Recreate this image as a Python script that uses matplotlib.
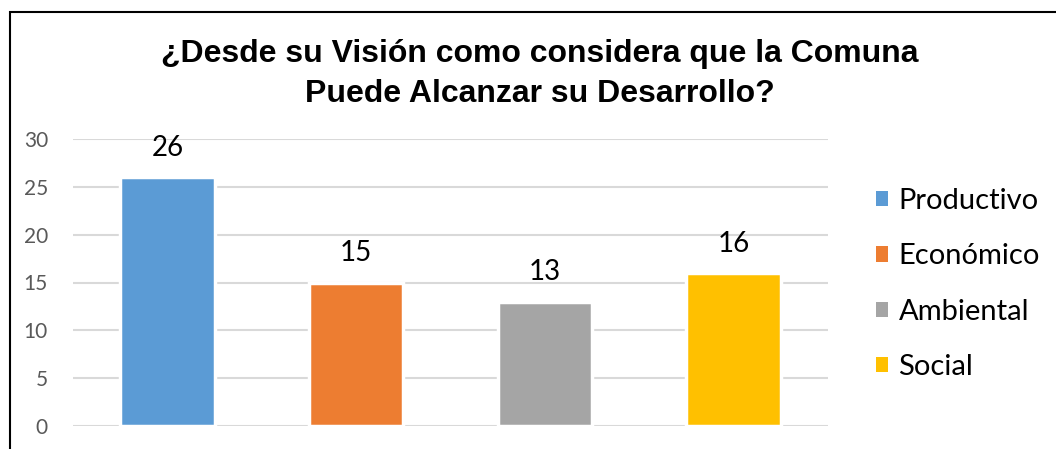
import matplotlib.pyplot as plt
from matplotlib.patches import Rectangle

categories = ['Productivo', 'Económico', 'Ambiental', 'Social']
values = [26, 15, 13, 16]
colors = ['#5B9BD5', '#ED7D31', '#A5A5A5', '#FFC000']
yticks = [0, 5, 10, 15, 20, 25, 30]
title = '¿Desde su Visión como considera que la Comuna\nPuede Alcanzar su Desarrollo?'

W, H = 1056, 449
fig = plt.figure(figsize=(W / 100, H / 100), dpi=100)
ax = fig.add_axes([73 / W, 1 - 426 / H, (828 - 73) / W, (426 - 139) / H])

for i, (cat, val, col) in enumerate(zip(categories, values, colors)):
    ax.bar(i, val, width=0.5, color=col, edgecolor='white', linewidth=2.5,
           label=cat, zorder=3)
    ax.text(i, val + 1.7, str(val), ha='center', va='bottom',
            fontsize=20, family='Lato', color='black')

ax.set_xlim(-0.5, 3.5)
ax.set_ylim(0, 30)
ax.set_yticks(yticks)
ax.set_xticks([])
ax.yaxis.grid(True, color='#D9D9D9', linewidth=1.5, zorder=0)
ax.tick_params(axis='y', length=0, pad=18, labelsize=15, labelcolor='#595959')
for lab in ax.get_yticklabels():
    lab.set_family('Lato')
for s in ax.spines.values():
    s.set_visible(False)

leg = fig.legend(loc='center left', bbox_to_anchor=(876 / W, 1 - 284 / H),
                 frameon=False, prop={'family': 'Lato', 'size': 21},
                 handlelength=0.42, handleheight=0.42, handletextpad=0.35,
                 labelspacing=1.0, borderpad=0, borderaxespad=0)
for h in leg.legend_handles:
    h.set_edgecolor('none')

fig.text(540 / W, 1 - 74 / H, title, ha='center', va='center', fontsize=23,
         fontweight='bold', family='Liberation Sans', linespacing=1.42)

fig.patches.append(Rectangle((10 / W, -0.1), 2.0, 1 - 12 / H + 0.1,
                             transform=fig.transFigure, fill=False,
                             edgecolor='black', linewidth=1.5))

fig.savefig('out.png', dpi=100)
